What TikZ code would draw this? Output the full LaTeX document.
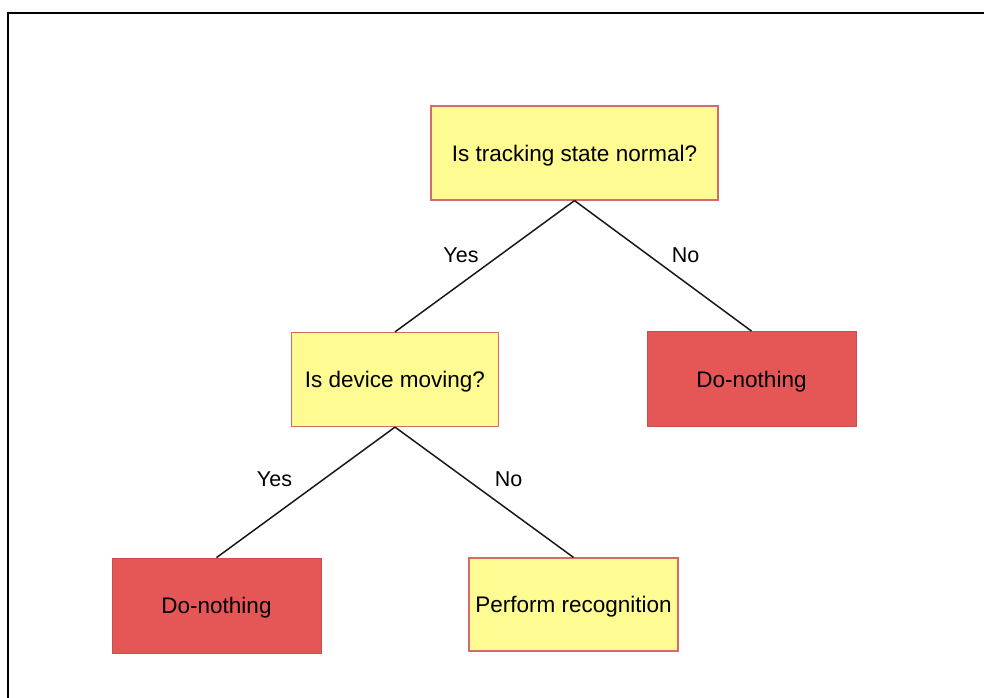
\documentclass[tikz,border=0pt]{standalone}
\usepackage{fontspec}
\setmainfont{Liberation Sans}
\usepackage{xcolor}
\usetikzlibrary{positioning}

\definecolor{qfill}{HTML}{FDFB91}
\definecolor{qline}{HTML}{D46A6A}
\definecolor{nfill}{HTML}{E55757}
\definecolor{nline}{HTML}{C94F4F}

\begin{document}
\begin{tikzpicture}[x=1pt, y=-1pt,
  question/.style={draw=qline, fill=qfill, line width=1.2pt,
    minimum height=94pt, inner sep=0pt, text height=16pt, text depth=0pt,
    font=\fontsize{22.5}{26}\selectfont},
  nothing/.style={draw=nline, fill=nfill, line width=0.8pt,
    minimum width=209pt, minimum height=95pt, inner sep=0pt,
    text height=16pt, text depth=0pt, font=\fontsize{22.5}{26}\selectfont},
  branch/.style={line width=1.5pt, black!90},
  answer/.style={text height=16pt, text depth=0pt, inner sep=0pt,
    font=\fontsize{21.5}{25}\selectfont}
]
\useasboundingbox (0,0) rectangle (984,697);

% outer frame
\draw[line width=2pt] (8,710) -- (8,13) -- (995,13);

% decision nodes
\node[question, minimum width=287pt] (track) at (574.5,153) {Is tracking state normal?};
\node[question, minimum width=207pt] (move) at (395,379.5) {Is device moving?};
\node[question, minimum width=209pt, minimum height=93pt] (recog) at (573.5,604.5) {Perform recognition};

% leaves
\node[nothing] (idleA) at (751.5,379) {Do-nothing};
\node[nothing] (idleB) at (216.5,605.5) {Do-nothing};

% branches
\draw[branch] (track.south) -- (move.north);
\draw[branch] (track.south) -- (idleA.north);
\draw[branch] (move.south) -- (idleB.north);
\draw[branch] (move.south) -- (recog.north);

\node[answer] (yesA) at (461,254) {Yes};
\node[answer] (noA) at (685.5,254) {No};
\node[answer] (yesB) at (274.5,478.5) {Yes};
\node[answer] (noB) at (508.5,478.5) {No};

\end{tikzpicture}
\end{document}
